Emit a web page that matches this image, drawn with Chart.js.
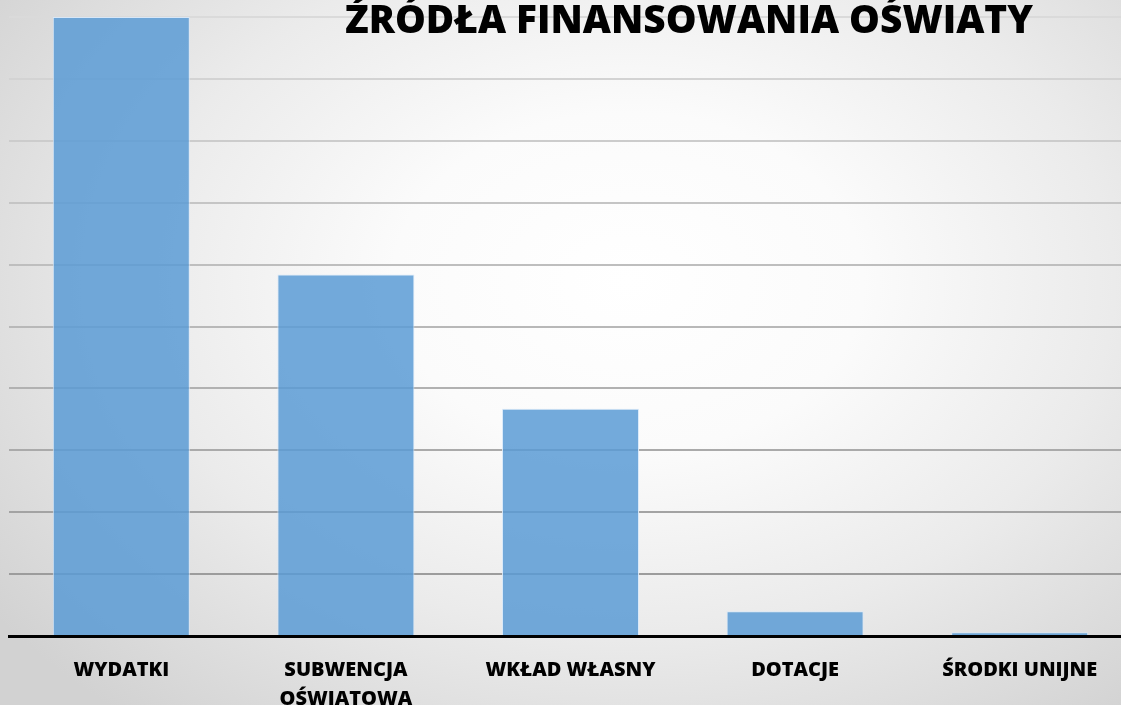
<!DOCTYPE html>
<html>
<head>
<meta charset="utf-8">
<script src="https://cdn.jsdelivr.net/npm/chart.js@4"></script>
<style>
  html, body { margin: 0; padding: 0; width: 1121px; height: 705px; overflow: hidden; }
  body { background: radial-gradient(ellipse 70% 80% at 56% 40%, #ffffff 0%, #fbfbfb 30%, #ebebeb 62%, #d2d2d2 100%); }
  #wrap { position: absolute; left: 0; top: 0; }
</style>
</head>
<body>
<div id="wrap"><canvas id="chartjs-canvas" width="1135" height="705"></canvas></div>
<script>
// categories and values
const categories = ['WYDATKI', ['SUBWENCJA', 'OŚWIATOWA'], 'WKŁAD WŁASNY', 'DOTACJE', 'ŚRODKI UNIJNE'];
const values = [10.0, 5.84, 3.67, 0.40, 0.06];
const chartTitle = 'ŹRÓDŁA FINANSOWANIA OŚWIATY';

// title drawn by hand so it can sit on top of the plot like in the slide
const titlePlugin = {
    id: 'slideTitle',
    afterDraw(chart) {
        const c = chart.ctx;
        c.save();
        c.font = '800 39px "Open Sans"';
        c.fillStyle = '#000';
        c.textBaseline = 'alphabetic';
        const w = c.measureText(chartTitle).width;
        const target = 688;
        c.translate(345, 33);
        c.scale(target / w, 1);
        c.fillText(chartTitle, 0, 0);
        c.restore();
    }
};

const ctx = document.getElementById('chartjs-canvas').getContext('2d');

new Chart(ctx, {
    type: 'bar',
    data: {
        labels: categories,
        datasets: [{
            data: values,
            backgroundColor: 'rgba(91,155,213,0.85)',
            borderColor: 'rgba(215,232,250,0.9)',
            borderWidth: 1,
            barPercentage: 0.61,
            categoryPercentage: 1.0
        }]
    },
    options: {
        responsive: false,
        animation: false,
        layout: { padding: { left: 9, right: 3, top: 17, bottom: 0 } },
        plugins: {
            legend: { display: false },
            title: { display: false },
            tooltip: { enabled: false }
        },
        scales: {
            x: {
                grid: { display: false },
                border: { display: true, color: '#000', width: 3 },
                ticks: {
                    color: '#000',
                    padding: 12,
                    maxRotation: 0,
                    autoSkip: false,
                    font: { family: '"Open Sans"', weight: '800', size: 20, lineHeight: 1.45 }
                },
                afterFit: s => { s.height = 69; }
            },
            y: {
                min: 0,
                max: 10,
                border: { display: false },
                grid: {
                    drawTicks: false,
                    lineWidth: 2,
                    color: c => {
                        const v = c.tick ? c.tick.value : 0;
                        const g = Math.round(156 + (v - 1) / 9 * 62);
                        return `rgb(${g},${g},${g})`;
                    }
                },
                ticks: { display: false, stepSize: 1 }
            }
        }
    },
    plugins: [titlePlugin]
});
</script>
</body>
</html>
